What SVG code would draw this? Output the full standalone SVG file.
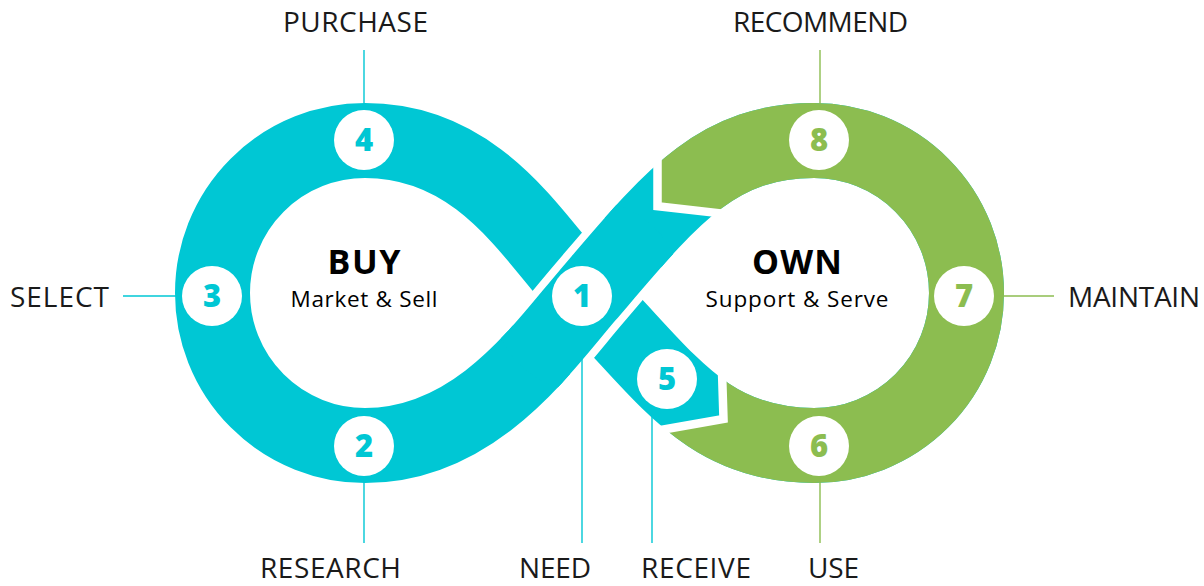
<svg xmlns="http://www.w3.org/2000/svg" width="1204" height="586" viewBox="0 0 1204 586">
<defs>
<style>
.band{fill:none;stroke-width:75}
.blue{stroke:#00C7D4}
.green{stroke:#8CBD50}
.gapw{fill:none;stroke:#fff;stroke-width:90}
.cut{fill:none;stroke:#fff;stroke-width:8.5;stroke-linejoin:miter;stroke-miterlimit:10}
.lb{stroke:#00C7D4;stroke-width:1.4}
.lg{stroke:#8CBD50;stroke-width:1.4}
.dot{fill:#fff}
.num{font-family:"Open Sans",Lato,"Liberation Sans",sans-serif;font-weight:800;font-size:31px;text-anchor:middle}
.nb{fill:#00C7D4}
.ng{fill:#8CBD50}
.lbl{font-family:"Open Sans","Liberation Sans",sans-serif;font-size:28px;fill:#1a1a1a}
.title{font-family:"Open Sans","Liberation Sans",sans-serif;font-weight:bold;font-size:34px;fill:#000;text-anchor:middle}
.sub{font-family:"Open Sans","Liberation Sans",sans-serif;font-size:22.5px;fill:#000;text-anchor:middle}
</style>
<clipPath id="greenClip"><polygon points="657.5,0 657.5,206.2 721,213.4 723.5,419 600,440 600,586 1204,586 1204,0"/></clipPath>
<clipPath id="crossClip"><circle cx="587" cy="296" r="80"/></clipPath>
<clipPath id="crossClipWide"><circle cx="587" cy="296" r="96"/></clipPath>
<path id="loop" d="M365,140.5 C485,140.5 537.5,246.5 587,296 C664.8,373.8 704,445.5 814,445.5 A152.5,152.5 0 0 0 966.5,293 A152.5,152.5 0 0 0 814,140.5 C714,140.5 668.3,201 587,296 C541.5,349.2 475,445.5 365,445.5 A152.5,152.5 0 0 1 212.5,293 A152.5,152.5 0 0 1 365,140.5 Z"/>
<path id="diag" d="M365,445.5 C475,445.5 541.5,349.2 587,296 C668.3,201 714,140.5 814,140.5"/>
</defs>
<rect width="1204" height="586" fill="#fff"/>

<g id="connectors">
<g id="bands">
<use href="#loop" class="band blue"/>
<use href="#loop" class="band green" clip-path="url(#greenClip)"/>
<use href="#diag" class="gapw" clip-path="url(#crossClip)"/>
<use href="#diag" class="band blue" clip-path="url(#crossClipWide)"/>
<polyline class="cut" points="657.5,130 657.5,206.2 745,216.1"/>
<polyline class="cut" points="721,340 723.5,419 648,432.2"/>
</g>
<g id="leader-lines">
<line class="lb" x1="364" y1="50" x2="364" y2="112"/>
<line class="lg" x1="820" y1="50" x2="820" y2="112"/>
<line class="lb" x1="123" y1="296" x2="185" y2="296"/>
<line class="lg" x1="995" y1="296" x2="1054" y2="296"/>
<line class="lb" x1="364" y1="475" x2="364" y2="543"/>
<line class="lb" x1="582" y1="350" x2="582" y2="543"/>
<line class="lb" x1="652" y1="405" x2="652" y2="543"/>
<line class="lg" x1="820" y1="475" x2="820" y2="543"/>
</g>
</g>

<g id="node-1"><circle class="dot" cx="582" cy="296" r="30"/><text class="num nb" x="582" y="307">1</text><text class="lbl" x="519" y="578" textLength="72">NEED</text></g>
<g id="node-2"><circle class="dot" cx="364" cy="446" r="30"/><text class="num nb" x="364" y="457">2</text><text class="lbl" x="260" y="578" textLength="141">RESEARCH</text></g>
<g id="node-3"><circle class="dot" cx="212" cy="296" r="30"/><text class="num nb" x="212" y="307">3</text><text class="lbl" x="10" y="307" textLength="99">SELECT</text></g>
<g id="node-4"><circle class="dot" cx="364" cy="140" r="30"/><text class="num nb" x="364" y="151">4</text><text class="lbl" x="283" y="32" textLength="145">PURCHASE</text></g>
<g id="node-5"><circle class="dot" cx="667" cy="379" r="30"/><text class="num nb" x="667" y="390">5</text><text class="lbl" x="641" y="578" textLength="110">RECEIVE</text></g>
<g id="node-6"><circle class="dot" cx="819" cy="446" r="30"/><text class="num ng" x="819" y="457">6</text><text class="lbl" x="808" y="578" textLength="51">USE</text></g>
<g id="node-7"><circle class="dot" cx="964" cy="296" r="30"/><text class="num ng" x="964" y="307">7</text><text class="lbl" x="1068" y="307" textLength="132">MAINTAIN</text></g>
<g id="node-8"><circle class="dot" cx="819" cy="140" r="30"/><text class="num ng" x="819" y="151">8</text><text class="lbl" x="733" y="32" textLength="175">RECOMMEND</text></g>

<g id="buy">
<text class="title" x="364" y="274" textLength="73">BUY</text>
<text class="sub" x="364" y="306.5" textLength="147">Market &amp; Sell</text>
</g>
<g id="own">
<text class="title" x="797" y="274" textLength="90">OWN</text>
<text class="sub" x="797" y="306.5" textLength="183">Support &amp; Serve</text>
</g>
</svg>
